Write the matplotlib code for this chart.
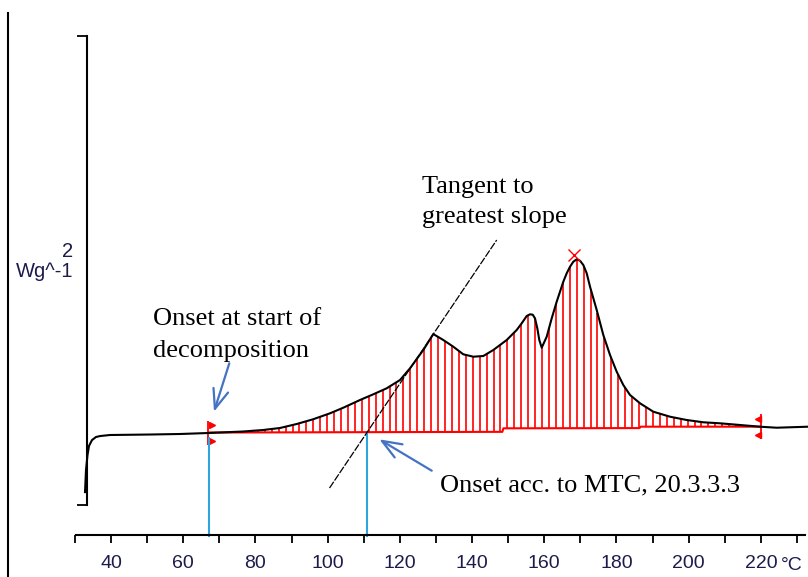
import numpy as np
import matplotlib
matplotlib.use("Agg")
import matplotlib.pyplot as plt
from matplotlib.lines import Line2D

plt.rcParams['font.family'] = ['Liberation Sans', 'DejaVu Sans']

# ---------------- data (temperature in °C, heat flow in W/g) ----------------
temp_c = [32.80, 33.07, 33.49, 33.91, 34.74, 35.84, 36.95, 39.72, 50.80, 59.11,
          66.87, 76.57, 82.11, 86.81, 91.44, 95.96, 100.66, 104.35, 108.98, 112.66,
          116.37, 120.06, 122.83, 126.51, 129.28, 132.05, 134.82, 137.59, 140.36, 143.13,
          145.90, 149.61, 152.38, 153.76, 155.15, 156.07, 156.82, 157.45, 158.09, 158.64,
          159.31, 160.69, 162.08, 163.46, 165.29, 166.23, 167.15, 168.06, 169.00, 169.92,
          170.83, 171.77, 172.69, 174.54, 176.37, 178.23, 180.08, 181.91, 183.77, 186.54,
          190.22, 194.85, 199.47, 204.07, 208.70, 214.24, 219.78, 224.40, 233.07]
heat_flow = [0.055, 0.149, 0.213, 0.252, 0.277, 0.290, 0.294, 0.2985, 0.3006, 0.3028,
             0.307, 0.3134, 0.3198, 0.3284, 0.3454, 0.3655, 0.391, 0.4149, 0.4478, 0.4721,
             0.4977, 0.533, 0.583, 0.661, 0.729, 0.7036, 0.675, 0.6426, 0.6324, 0.6354,
             0.661, 0.7036, 0.7463, 0.7748, 0.806, 0.8132, 0.8115, 0.796, 0.7535, 0.7036,
             0.6708, 0.7177, 0.7962, 0.867, 0.9522, 0.9881, 1.0162, 1.0375, 1.0478, 1.0418,
             1.0235, 0.9881, 0.9309, 0.8316, 0.725, 0.6397, 0.5684, 0.5117, 0.4691, 0.4337,
             0.3979, 0.3765, 0.3625, 0.3527, 0.3484, 0.3412, 0.3339, 0.3296, 0.3339]

baseline_temp = [66.9, 148.4, 148.7, 186.4, 186.7, 219.8]
baseline_flow = [0.309, 0.312, 0.327, 0.328, 0.334, 0.334]

tangent_temp = [100.53, 146.84]
tangent_flow = [0.0725, 1.130]

onset_start = 67.06
onset_mtc = 111.0
limit_left = 66.95
limit_right = 220.08
peak_temp = 168.25
peak_flow = 1.064

x_ticks = list(range(30, 231, 10))
x_ticklabels = [str(t) if (t % 20 == 0 and 40 <= t <= 220) else '' for t in x_ticks]
scale_bar = [0.0, 2.0]

# ---------------- figure ----------------
W, H = 808, 577
fig = plt.figure(figsize=(W / 100, H / 100), dpi=100)
ax = fig.add_axes([0, 0, 1, 1])
ax.set_xlim(9.252, 233.07)
ax.set_ylim(-0.307, 2.1535)
ax.patch.set_alpha(0)


def fp(x, y):
    return (x / W, 1 - y / H)


navy = '#1c1c4c'
ax.spines['top'].set_visible(False)
ax.spines['right'].set_visible(False)
ax.spines['left'].set_position(('data', 33.43))
ax.spines['left'].set_bounds(*scale_bar)
ax.spines['bottom'].set_position(('data', -0.130))
ax.spines['bottom'].set_bounds(30.2, 232.2)
for s in ('left', 'bottom'):
    ax.spines[s].set_linewidth(1.5)

ax.set_xticks(x_ticks)
ax.set_xticklabels(x_ticklabels)
ax.tick_params(axis='x', direction='out', length=5.8, width=1.3, pad=8.0,
               labelsize=14, labelcolor=navy)
ax.set_yticks(scale_bar)
ax.set_yticklabels(['', ''])
ax.tick_params(axis='y', direction='out', length=7.5, width=1.3)

# hatch lines between baseline and curve
hatch_T = np.arange(69.16, 219.8, 1.92)
top = np.interp(hatch_T, temp_c, heat_flow)
bot = np.interp(hatch_T, baseline_temp, baseline_flow)
m = top > bot
ax.vlines(hatch_T[m], bot[m], top[m], colors='#ff0000', linewidth=1.2, zorder=2)
ax.plot(baseline_temp, baseline_flow, color='#ff0000', lw=1.5, zorder=2)

# integration limit flags
y_px = lambda py: (505 - py) / 234.5
ax.vlines([limit_left], y_px(445), y_px(421), colors='#ff0000', lw=1.3, zorder=2)
ax.vlines([limit_right], y_px(439), y_px(414), colors='#ff0000', lw=1.3, zorder=2)
ax.plot([limit_left + 0.9] * 2, [y_px(424.5), y_px(441)], ls='none', marker='>',
        ms=5, color='#ff0000', zorder=2)
ax.plot([limit_right - 0.9] * 2, [y_px(418.5), y_px(435)], ls='none', marker='<',
        ms=5, color='#ff0000', zorder=2)

# onset lines
blue = '#2ea3dd'
ax.vlines([onset_start], -0.1365, y_px(437), colors=blue, lw=1.5, zorder=2.5)
ax.vlines([onset_mtc], -0.1365, y_px(432), colors=blue, lw=1.5, zorder=2.5)

# curve, tangent, peak
ax.plot(temp_c, heat_flow, color='black', lw=1.5, zorder=3)
ax.plot(tangent_temp, tangent_flow, color='black', lw=0.9, ls=(0, (6, 1.2)), zorder=3)
ax.plot([peak_temp], [peak_flow], marker='x', ms=8, mew=1.0, color='#ff0000', zorder=4)

# arrows
arrow_blue = '#4472c4'
ap = dict(arrowstyle='->,head_length=1.4,head_width=0.55', color=arrow_blue, lw=1.6,
          shrinkA=0, shrinkB=0, mutation_scale=10)
ax.annotate('', xy=(68.53, 0.398), xytext=(72.77, 0.6043), arrowprops=ap)
ax.annotate('', xy=(114.32, 0.280), xytext=(128.84, 0.1463), arrowprops=ap)

# texts
serif = ['Liberation Serif', 'DejaVu Serif']
fs = 19
fig.text(*fp(421.7, 193.3), 'Tangent to', family=serif, fontsize=fs, va='baseline', ha='left')
fig.text(*fp(421.7, 223.3), 'greatest slope', family=serif, fontsize=fs, va='baseline', ha='left')
fig.text(*fp(153.3, 325.0), 'Onset at start of', family=serif, fontsize=fs, va='baseline', ha='left')
fig.text(*fp(153.3, 356.7), 'decomposition', family=serif, fontsize=fs, va='baseline', ha='left')
fig.text(*fp(440.0, 491.7), 'Onset acc. to MTC, 20.3.3.3', family=serif, fontsize=fs,
         va='baseline', ha='left')

fig.text(*fp(73.5, 256.7), '2', fontsize=14.5, color=navy, va='baseline', ha='right')
fig.text(*fp(73.5, 277.0), 'Wg^-1', fontsize=14.5, color=navy, va='baseline', ha='right')
fig.text(*fp(781.0, 570.0), '°C', fontsize=14, color=navy, va='baseline', ha='left')

# left border line
fig.add_artist(Line2D([8 / W, 8 / W], [0, 1 - 13 / H], transform=fig.transFigure,
                      color='black', lw=1.5))

fig.savefig('out.png', dpi=100)
